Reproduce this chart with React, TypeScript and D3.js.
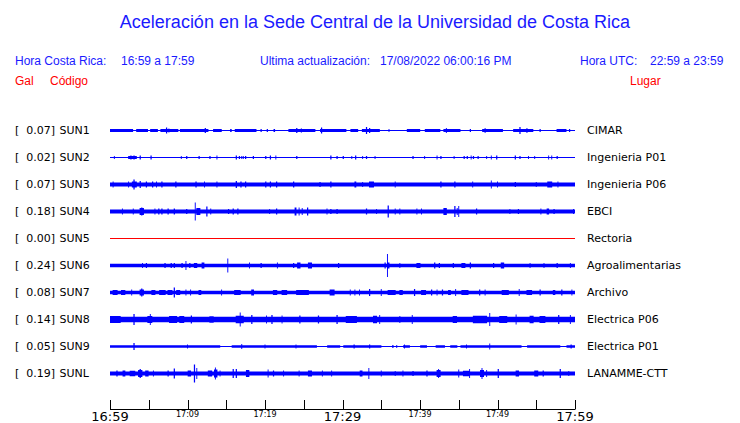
import React from "react";
import * as d3 from "d3";

// ---------- data ----------
const TITLE = "Aceleración en la Sede Central de la Universidad de Costa Rica";
const UPDATED = "17/08/2022 06:00:16 PM";
const LOCAL_RANGE = "16:59 a 17:59";
const UTC_RANGE = "22:59 a 23:59";

const codes = ["SUN1", "SUN2", "SUN3", "SUN4", "SUN5", "SUN6", "SUN7", "SUN8", "SUN9", "SUNL"];
const places = ["CIMAR", "Ingenieria P01", "Ingenieria P06", "EBCI", "Rectoria", "Agroalimentarias", "Archivo", "Electrica P06", "Electrica P01", "LANAMME-CTT"];
const gal = ["0.07", "0.02", "0.07", "0.18", "0.00", "0.24", "0.08", "0.14", "0.05", "0.19"];
// background envelope half-amplitude of each trace
const baseAmp = [1.4, 0.5, 2, 2, 0.5, 1.8, 1.7, 2.8, 1.3, 2];
const traceColor = ["blue", "blue", "blue", "blue", "red", "blue", "blue", "blue", "blue", "blue"];

// quiet intervals [startMin, endMin] (envelope drops to thin line)
const quietSUN1 = [[3.0, 3.4], [4.9, 5.2], [6.2, 6.5], [8.8, 9.0], [12.7, 13.3], [14.4, 15.5], [15.7, 16.1], [18.9, 21.1], [21.3, 23.0], [26.5, 27.1], [30.5, 31.0], [32.0, 32.5], [34.8, 38.3], [40.0, 40.6], [42.6, 43.0], [45.2, 48.0], [50.7, 52.0], [54.6, 57.6], [58.9, 60]];
const quietSUN9 = [[14.2, 15.7], [26.7, 28.0], [29.7, 30.1], [35.0, 37.8], [38.7, 40.0], [40.9, 42.0], [43.2, 43.9], [44.8, 45.2], [53.1, 53.8], [58.1, 58.9]];
const quiet = [quietSUN1, [], [], [], [], [], [], [], quietSUN9, []];

// events [startMin, endMin, halfAmp]
const evSUN1 = [[7.3, 7.3, 3], [7.6, 7.6, 2], [12.3, 12.3, 2.5], [24.1, 24.1, 2.5], [24.7, 24.7, 2], [27.3, 27.3, 3], [33.1, 33.1, 3.5], [33.5, 33.5, 2.5], [43.4, 43.4, 2.5], [48.4, 48.4, 2.5], [52.9, 52.9, 3.5], [53.8, 53.8, 2.5], [19.5, 19.5, 1.5], [20.3, 20.3, 1.5], [36.0, 36.0, 1.5], [46.5, 46.5, 1.5], [55.5, 55.5, 1.5], [59.3, 59.3, 1.5]];
const evSUN2 = [[0.56, 0.56, 1.5], [2.4, 3.4, 1.5], [2.7, 2.7, 2], [3.1, 3.1, 2], [3.9, 3.9, 2], [5.3, 5.3, 2], [9.2, 9.2, 1.5], [9.9, 9.9, 1.5], [11.5, 11.5, 1.5], [12.9, 12.9, 1.5], [13.8, 13.8, 2], [16.3, 16.3, 2], [16.7, 16.7, 1.5], [17.0, 17.0, 1.5], [17.2, 17.2, 1.5], [17.5, 17.5, 1.5], [18.5, 18.5, 1.5], [20.1, 20.1, 1.5], [20.7, 20.7, 2], [21.4, 21.4, 2], [24.1, 24.1, 1.5], [28.5, 28.5, 2], [29.3, 29.3, 1.5], [30.1, 30.1, 1.5], [31.2, 31.2, 1.5], [31.7, 31.7, 2], [32.6, 32.6, 1.5], [33.1, 33.1, 1.5], [34.2, 34.2, 1.5], [39.1, 39.1, 1.5], [40.6, 40.6, 1.5], [42.2, 42.2, 2], [42.7, 42.7, 1.5], [44.4, 44.4, 1.5], [45.7, 45.7, 1.5], [46.1, 46.1, 1.5], [46.6, 46.6, 2], [46.9, 46.9, 1.5], [47.5, 47.5, 1.5], [48.6, 48.6, 1.5], [49.2, 49.2, 2], [49.9, 49.9, 2], [52.3, 52.3, 2], [52.9, 52.9, 1.5], [54.0, 54.0, 1.5], [54.8, 54.8, 1.5], [56.6, 56.6, 2], [57.0, 57.0, 2], [57.7, 57.7, 1.5]];
const evSUN3 = [[0.4, 0.4, 3], [2.4, 2.4, 3], [2.9, 3.4, 3], [3.1, 3.1, 5], [3.9, 3.9, 3.5], [4.7, 4.7, 3], [5.5, 5.5, 3], [6.0, 6.0, 3], [6.7, 6.7, 3], [8.5, 8.5, 3], [11.1, 11.1, 3], [12.2, 12.2, 3], [13.8, 13.8, 3], [16.3, 16.3, 3.5], [16.9, 16.9, 3], [17.5, 17.5, 3], [20.1, 20.1, 3], [20.7, 20.7, 3], [21.5, 21.5, 3], [23.7, 23.7, 3], [27.1, 27.1, 2.5], [28.5, 28.5, 3], [31.6, 31.7, 3], [32.6, 32.6, 2.5], [33.5, 34.0, 3], [36.8, 36.8, 3], [42.7, 42.7, 3], [44.5, 44.5, 3], [46.8, 46.8, 3], [49.2, 49.2, 4], [50.0, 50.0, 3], [52.3, 52.3, 2.5], [55.0, 55.0, 2.5], [56.5, 57.0, 3], [57.8, 57.8, 3]];
const evSUN4 = [[1.6, 1.6, 3], [3.0, 3.0, 3], [3.9, 4.3, 3.5], [4.1, 4.1, 4], [5.8, 5.8, 3], [6.3, 6.3, 3], [6.7, 6.7, 3], [7.5, 7.5, 3], [8.3, 8.3, 3], [9.9, 9.9, 2.5], [11.0, 11.0, 9], [11.2, 11.6, 3.5], [12.5, 12.5, 5], [13.0, 13.0, 3], [15.3, 15.3, 2.5], [15.9, 15.9, 3], [16.5, 16.5, 3], [20.6, 20.6, 2.5], [21.5, 21.5, 3], [23.9, 24.0, 4], [24.4, 24.4, 4], [24.8, 24.8, 3.5], [25.5, 25.5, 4], [28.0, 28.0, 3], [28.5, 28.5, 2.5], [29.3, 29.3, 2.5], [33.1, 33.1, 3], [34.4, 34.4, 2.5], [35.9, 35.9, 6], [36.8, 36.8, 3], [37.4, 37.4, 3], [39.6, 39.6, 3], [40.2, 40.2, 3], [43.1, 43.4, 3.5], [44.5, 44.5, 5.5], [44.8, 44.8, 3.5], [45.0, 45.0, 5.5], [47.3, 47.3, 3], [51.6, 51.6, 2.5], [52.7, 52.7, 2.5], [55.6, 55.6, 3], [56.4, 56.6, 3], [57.3, 57.3, 2.5], [59.8, 59.8, 2.5]];
const evSUN6 = [[4.2, 4.2, 2.5], [4.7, 4.7, 2.5], [7.1, 7.1, 2.5], [7.9, 7.9, 2.5], [8.3, 8.3, 2.5], [9.3, 9.3, 2.5], [9.8, 9.8, 4.5], [10.3, 10.3, 2.5], [10.9, 11.2, 2.5], [11.9, 12.1, 3], [15.2, 15.2, 7], [18.0, 18.0, 3], [19.5, 19.5, 2.5], [21.6, 21.6, 3], [23.7, 23.7, 2.5], [24.2, 24.5, 3], [25.6, 26.0, 3], [29.5, 29.5, 2.5], [35.5, 35.5, 3], [35.8, 35.8, 11.5], [35.9, 36.0, 3], [37.4, 37.4, 2.5], [39.6, 40.0, 2.5], [41.9, 41.9, 3], [42.5, 42.5, 2.5], [44.3, 44.3, 2.5], [45.4, 45.8, 2.5], [46.5, 46.5, 3], [49.5, 49.5, 2.5], [50.5, 50.8, 3], [54.2, 54.2, 2.5], [56.0, 56.0, 2.5], [57.7, 57.7, 2.5], [59.4, 59.4, 2.5]];
const evSUN7 = [[0.4, 0.9, 2.5], [1.5, 1.9, 2.5], [2.8, 2.8, 3], [3.9, 4.3, 3], [4.1, 4.1, 4], [5.4, 5.8, 2.5], [6.4, 7.1, 2.5], [7.5, 8.0, 2.5], [8.3, 8.3, 5], [8.6, 9.0, 2.5], [9.8, 9.8, 3], [10.4, 10.4, 3], [11.5, 11.7, 2.5], [14.4, 14.4, 3], [16.1, 16.8, 2.5], [18.3, 18.5, 3], [21.1, 21.5, 2.5], [22.2, 22.8, 2.5], [24.1, 25.6, 2.5], [28.4, 28.9, 3], [31.0, 31.0, 3], [31.6, 31.6, 3], [32.2, 32.2, 3], [33.5, 33.5, 3.5], [35.0, 35.0, 3.5], [35.9, 36.8, 2.5], [37.4, 37.7, 2.5], [39.3, 39.3, 3.5], [40.2, 40.7, 2.5], [41.5, 41.5, 3], [42.2, 42.2, 3], [42.9, 42.9, 3], [43.7, 43.9, 2.5], [44.6, 44.6, 3.5], [45.4, 46.2, 2.5], [47.7, 47.7, 3], [48.4, 48.4, 3], [50.6, 51.4, 2.5], [52.8, 52.8, 3.5], [53.8, 54.4, 2.5], [55.5, 55.5, 3], [57.2, 57.4, 2.5], [58.3, 58.3, 3], [59.6, 59.6, 3]];
const evSUN8 = [[0.0, 1.3, 3.5], [3.1, 3.1, 5.5], [4.9, 5.4, 3.5], [5.2, 5.2, 5.5], [7.7, 8.6, 3.5], [9.0, 9.5, 3.5], [10.5, 10.5, 4], [12.9, 13.3, 3.3], [16.3, 17.2, 3.7], [16.8, 16.8, 7], [18.3, 18.3, 4.5], [20.2, 20.2, 4], [20.9, 20.9, 4.5], [22.2, 22.2, 4], [24.5, 24.5, 4], [26.9, 26.9, 4], [29.3, 29.3, 4.5], [30.5, 31.8, 3.5], [34.0, 34.4, 3.7], [34.8, 34.8, 4.5], [37.4, 37.4, 3.5], [39.0, 39.0, 4.5], [44.3, 44.7, 3.5], [46.9, 48.6, 3.7], [49.0, 49.0, 6.5], [50.3, 51.2, 3.5], [52.4, 52.4, 5], [54.2, 54.6, 3.7], [55.5, 56.1, 3.5], [57.9, 57.9, 4.5], [59.4, 59.4, 4.5]];
const evSUN9 = [[3.1, 3.1, 3.5], [10.0, 10.0, 2], [17.0, 17.0, 2.5], [20.0, 20.0, 2], [24.0, 24.0, 2], [31.5, 31.5, 2], [33.5, 33.5, 2], [36.5, 36.5, 1.5], [37.0, 37.0, 1.5], [38.0, 38.0, 2], [46.0, 46.0, 2], [49.0, 49.0, 3], [59.5, 59.5, 2]];
const evSUNL = [[0.9, 0.9, 3], [1.7, 1.9, 3], [2.6, 3.2, 2.7], [3.7, 4.1, 3.5], [3.9, 3.9, 4.5], [4.6, 4.9, 3], [5.6, 5.6, 3], [7.5, 7.5, 3], [8.3, 8.3, 5], [10.1, 10.4, 3], [10.9, 10.9, 9], [11.2, 11.2, 5.5], [12.7, 13.1, 3], [13.5, 13.8, 4], [13.6, 13.6, 6], [14.2, 14.2, 3], [15.9, 15.9, 4.5], [16.3, 16.3, 4.5], [17.6, 17.9, 3.5], [20.4, 20.4, 4], [21.1, 21.1, 3], [22.4, 22.4, 3], [24.4, 24.4, 3], [25.6, 26.0, 3], [27.4, 27.4, 3], [28.6, 28.6, 3], [32.3, 32.5, 3], [33.4, 33.4, 5.5], [35.0, 35.0, 3], [36.8, 36.8, 2.5], [37.8, 37.8, 3], [39.1, 39.1, 2.5], [40.9, 40.9, 3], [42.2, 42.6, 3.5], [42.4, 42.4, 4.5], [45.0, 45.0, 4], [45.6, 46.3, 2.7], [46.4, 46.4, 4.5], [47.8, 48.2, 3.5], [48.0, 48.0, 5.5], [48.6, 48.6, 3.5], [50.1, 50.1, 4.5], [52.4, 52.7, 3], [54.8, 55.2, 3], [55.9, 55.9, 3], [58.1, 58.1, 4.5], [59.2, 59.2, 2.5]];
const events = [evSUN1, evSUN2, evSUN3, evSUN4, [], evSUN6, evSUN7, evSUN8, evSUN9, evSUNL];

const tickMinutes = [0, 5, 10, 15, 20, 25, 30, 35, 40, 45, 50, 55, 60];
const labelMinutes = [0, 10, 20, 30, 40, 50, 60];
const labelTexts = ["16:59", "17:09", "17:19", "17:29", "17:39", "17:49", "17:59"];
const bigLabels = ["16:59", "17:29", "17:59"];

// ---------- chart ----------
const W = 740;
const H = 423;
const BLUE = "#0000ff";
const TXT_BLUE = "#1a1aff";
const RED = "#ff0000";
const SANS = "'Liberation Sans', Arial, sans-serif";
const DJV = "'DejaVu Sans', sans-serif";

function envelope(i: number, x: d3.ScaleLinear<number, number>) {
  const [t0, t1] = x.domain();
  const step = 0.04;
  const pts: { t: number; a: number }[] = [];
  const q = quiet[i];
  const ev = events[i];
  const w = 0.07;
  for (let t = t0; t <= t1 + 1e-9; t += step) {
    let a = baseAmp[i];
    for (const [s, e] of q) if (t >= s && t <= e) a = 0.5;
    for (const [s, e, amp] of ev) if (t >= s - w && t <= e + w) a = Math.max(a, amp);
    pts.push({ t, a });
  }
  return pts;
}

export default function App() {
  const x = d3.scaleLinear().domain([0, 60]).range([110, 575]);
  const row = d3.scalePoint<string>().domain(codes).range([130.5, 373.5]);

  return (
    <svg width={W} height={H} style={{ position: "absolute", left: 0, top: 0, background: "#fff" }}>
      <rect width={W} height={H} fill="#fff" />
      <text x={375} y={28} textAnchor="middle" fontFamily={SANS} fontSize={18} fill={TXT_BLUE}>{TITLE}</text>

      <g fontFamily={SANS} fontSize={12} fill={TXT_BLUE}>
        <text x={15} y={65}>Hora Costa Rica:</text>
        <text x={121} y={65}>{LOCAL_RANGE}</text>
        <text x={260} y={65}>Ultima actualización:</text>
        <text x={380} y={65}>{UPDATED}</text>
        <text x={580} y={65}>Hora UTC:</text>
        <text x={650} y={65}>{UTC_RANGE}</text>
      </g>
      <g fontFamily={SANS} fontSize={12} fill={RED}>
        <text x={15} y={85}>Gal</text>
        <text x={50} y={85}>Código</text>
        <text x={630} y={85}>Lugar</text>
      </g>

      {codes.map((c, i) => {
        const cy = row(c) as number;
        const ty = Math.floor(cy) + 4;
        const y = d3.scaleLinear().domain([-12, 12]).range([cy + 12, cy - 12]);
        const color = traceColor[i] === "red" ? RED : BLUE;
        const pts = envelope(i, x);
        const area = d3
          .area<{ t: number; a: number }>()
          .x((d) => x(d.t))
          .y0((d) => y(-d.a))
          .y1((d) => y(d.a))
          .curve(d3.curveStep);
        return (
          <g key={c}>
            <text x={15} y={ty} fontFamily={DJV} fontSize={11} fill="#000">[</text>
            <text x={55} y={ty} textAnchor="end" fontFamily={DJV} fontSize={11} fill="#000">{gal[i] + "]"}</text>
            <text x={59.5} y={ty} fontFamily={DJV} fontSize={11} fill="#000">{c}</text>
            <path d={area(pts) || ""} fill={color} stroke="none" />
            <text x={587} y={ty} fontFamily={DJV} fontSize={11} fill="#000">{places[i]}</text>
          </g>
        );
      })}

      <g>
        <line x1={x(0)} x2={x(60)} y1={409.5} y2={409.5} stroke="#000" strokeWidth={1} />
        {tickMinutes.map((m) => (
          <line key={m} x1={Math.round(x(m)) + 0.5} x2={Math.round(x(m)) + 0.5} y1={400} y2={409.5} stroke="#000" strokeWidth={1} />
        ))}
        {labelMinutes.map((m, k) => {
          const big = bigLabels.includes(labelTexts[k]);
          return (
            <text key={m} x={x(m)} y={big ? 421 : 417} textAnchor="middle" fontFamily={DJV} fontSize={big ? 13 : 8} fill="#000">
              {labelTexts[k]}
            </text>
          );
        })}
      </g>
    </svg>
  );
}
